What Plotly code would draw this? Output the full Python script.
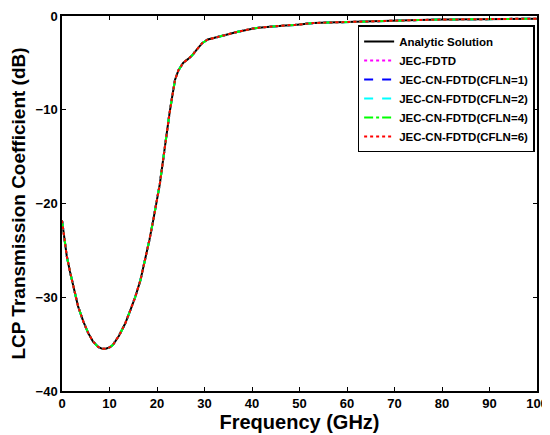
import plotly.graph_objects as go

freq = [0, 0.5, 1, 1.7, 2.5, 3.4, 4.5, 5.5, 6.5, 7.6, 8.5, 9.2, 10, 10.7, 12, 13.3, 14.3, 15.4, 16.5, 17.5, 18.4, 19.2, 20, 20.6, 21.3, 22, 22.6, 23.2, 23.8, 24.5, 25.5, 26.5, 27.4, 28.5, 29.5, 30.7, 32, 33.5, 35, 36.8, 38.5, 40.6, 42.5, 44.8, 47, 49, 51, 53, 56, 59.6, 63, 67, 71, 75, 80, 85, 90, 95, 100]
analytic = [-21.8, -24.0, -25.6, -27.3, -29.2, -31.0, -32.6, -33.8, -34.7, -35.3, -35.5, -35.5, -35.35, -35.1, -34.1, -32.8, -31.5, -30.0, -28.2, -26.0, -23.9, -21.8, -19.8, -17.9, -15.3, -12.6, -10.5, -8.6, -6.8, -5.8, -5.0, -4.6, -4.2, -3.5, -2.9, -2.5, -2.35, -2.2, -1.95, -1.7, -1.5, -1.3, -1.2, -1.07, -1.0, -0.95, -0.85, -0.75, -0.7, -0.64, -0.58, -0.52, -0.47, -0.43, -0.38, -0.35, -0.32, -0.3, -0.28]
jec_fdtd = analytic
cn1 = analytic
cn2 = analytic
cn4 = analytic
cn6 = analytic

names = ["Analytic Solution", "JEC-FDTD", "JEC-CN-FDTD(CFLN=1)", "JEC-CN-FDTD(CFLN=2)", "JEC-CN-FDTD(CFLN=4)", "JEC-CN-FDTD(CFLN=6)"]
series = [analytic, jec_fdtd, cn1, cn2, cn4, cn6]
colors = ["#000000", "#ff00ff", "#0000ff", "#00ffff", "#00ff00", "#ff0000"]
dashes = ["solid", "dot", "dash", "dash", "dashdot", "dot"]

fig = go.Figure()
for n, s, c, d in zip(names, series, colors, dashes):
    fig.add_trace(go.Scatter(x=freq, y=s, mode="lines", name=n,
                             line=dict(color=c, dash=d, width=2)))

font = "Arial, Liberation Sans, sans-serif"
axis_common = dict(showline=True, linecolor="black", linewidth=1.5, mirror="ticks",
                   ticks="inside", ticklen=4, tickcolor="black", showgrid=False,
                   zeroline=False, automargin=False,
                   tickfont=dict(family=font, size=13, color="black", weight="bold"))
fig.update_layout(
    width=542, height=427,
    margin=dict(l=54, r=13, t=8, b=44),
    paper_bgcolor="white", plot_bgcolor="white",
    xaxis=dict(range=[0, 100], dtick=10, tick0=0,
               title=dict(text="Frequency (GHz)", font=dict(family=font, size=20, color="black", weight="bold"), standoff=2),
               **axis_common),
    yaxis=dict(range=[-40, 0], dtick=10, tick0=0,
               title=dict(text="LCP Transmission Coefficient (dB)", font=dict(family=font, size=19, color="black", weight="bold"), standoff=6),
               **axis_common),
    legend=dict(x=0.995, y=0.975, xanchor="right", yanchor="top",
                bordercolor="black", borderwidth=1.5, bgcolor="white",
                font=dict(family=font, size=11.5, color="black", weight="bold"),
                tracegroupgap=0),
    showlegend=True,
)
fig.write_html("out.html")
